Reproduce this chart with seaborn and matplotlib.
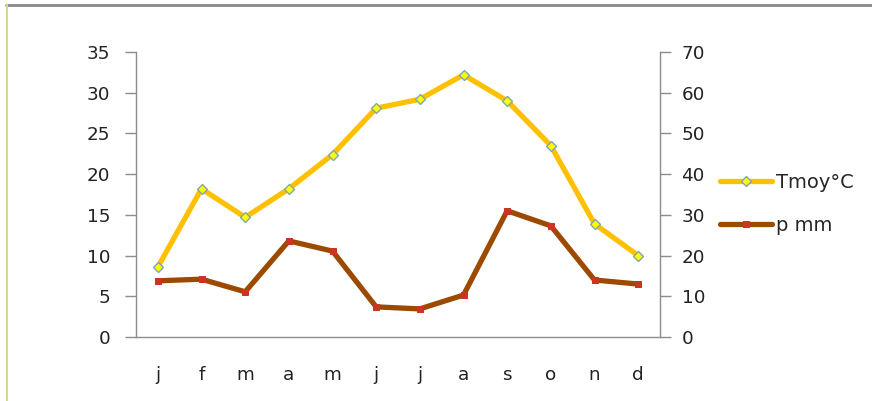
import numpy as np
import pandas as pd
import matplotlib
matplotlib.use('Agg')
import matplotlib.pyplot as plt
from matplotlib.lines import Line2D
import seaborn as sns

# Monthly climate data
months = ['j', 'f', 'm', 'a', 'm', 'j', 'j', 'a', 's', 'o', 'n', 'd']
tmoy = [8.6, 18.2, 14.7, 18.2, 22.4, 28.1, 29.2, 32.2, 29.0, 23.5, 13.9, 10.0]
precip = [13.8, 14.2, 11.1, 23.6, 21.1, 7.4, 6.9, 10.3, 31.0, 27.3, 14.0, 13.0]


def build_frame():
    """Put the series into a small table for seaborn."""
    return pd.DataFrame({'pos': np.arange(len(months)),
                         'tmoy': tmoy,
                         'precip': precip})


def style_axis(ax, color, pad):
    """Spines and ticks in the Excel-like gray."""
    for side in ['top', 'right', 'left', 'bottom']:
        ax.spines[side].set_visible(False)
    ax.tick_params(axis='y', length=8, width=1, color=color,
                   labelsize=13.2, labelcolor='#222222', pad=pad)


def main():
    sns.set_style('white')
    plt.rcParams['font.family'] = ['DejaVu Sans']
    df = build_frame()

    fig = plt.figure(figsize=(8.72, 4.01), dpi=100)
    ax = fig.add_axes([136 / 872, 64 / 401, 524 / 872, 285 / 401])
    ax2 = ax.twinx()
    axis_gray = '#8c8c8c'

    # Temperature on the left axis
    sns.lineplot(x='pos', y='tmoy', data=df, ax=ax, color='#FFC000',
                 linewidth=3.8, marker='D', markersize=4.6,
                 markerfacecolor='#FFFF00', markeredgecolor='#7FA6B0',
                 markeredgewidth=1.0, label='Tmoy°C', legend=False)

    # Precipitation on the right axis
    sns.lineplot(x='pos', y='precip', data=df, ax=ax2, color='#9C4A00',
                 linewidth=3.8, marker='s', markersize=4.3,
                 markerfacecolor='#CC3322', markeredgecolor='#CC3322',
                 label='p mm', legend=False)

    ax.set_xlim(-0.5, len(months) - 0.5)
    ax.set_ylim(0, 35)
    ax2.set_ylim(0, 70)
    ax.set_yticks(np.arange(0, 36, 5))
    ax2.set_yticks(np.arange(0, 71, 10))
    ax.set_xticks(np.arange(len(months)))
    ax.set_xticklabels(months)
    ax.set_xticks(np.arange(-0.5, len(months), 1), minor=True)
    ax.tick_params(axis='x', which='major', length=0, labelsize=13.2,
                   labelcolor='#222222', pad=21)
    ax.tick_params(axis='x', which='minor', length=8, width=1,
                   color=axis_gray, direction='out')
    ax.set_xlabel('')
    ax.set_ylabel('')
    ax2.set_ylabel('')

    style_axis(ax, axis_gray, 10.5)
    style_axis(ax2, axis_gray, 7.5)
    ax.spines['left'].set_visible(True)
    ax.spines['bottom'].set_visible(True)
    ax2.spines['right'].set_visible(True)
    for sp in [ax.spines['left'], ax.spines['bottom'], ax2.spines['right']]:
        sp.set_color(axis_gray)
        sp.set_linewidth(1.0)
    ax.tick_params(axis='y', left=True, direction='out')
    ax2.tick_params(axis='y', right=True, direction='out')
    ax.grid(False)
    ax2.grid(False)

    # Legend to the right of the plot
    h1, l1 = ax.get_legend_handles_labels()
    h2, l2 = ax2.get_legend_handles_labels()
    fig.legend(h1 + h2, l1 + l2, loc='center left',
               bbox_to_anchor=(710 / 872, (401 - 204) / 401),
               frameon=False, fontsize=14, handlelength=2.7,
               handletextpad=0.2, labelspacing=1.25, borderpad=0,
               numpoints=1)

    # Outer frame (top and left edges)
    fig.add_artist(Line2D([6 / 872, 1], [1 - 5 / 401, 1 - 5 / 401],
                          transform=fig.transFigure, color='#8a8a8a', lw=2))
    fig.add_artist(Line2D([7 / 872, 7 / 872], [0, 1 - 5 / 401],
                          transform=fig.transFigure, color='#d8d890', lw=1.5))

    fig.savefig('out.png', dpi=100)


if __name__ == '__main__':
    main()
